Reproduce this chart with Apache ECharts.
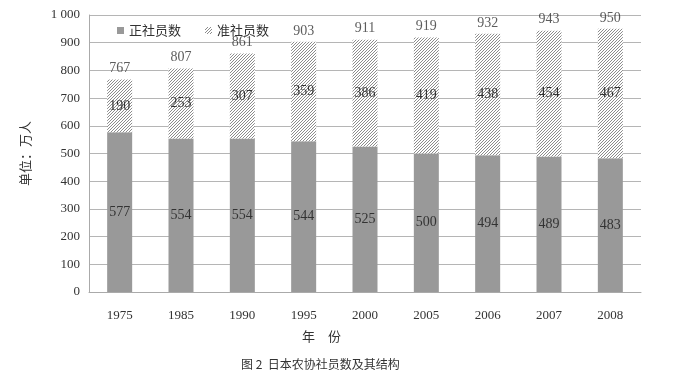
<!DOCTYPE html>
<html><head><meta charset="utf-8">
<script src="https://cdn.jsdelivr.net/npm/echarts@6/dist/echarts.min.js"></script>
<style>html,body{margin:0;padding:0;background:#fff}#c{width:676px;height:379px}</style>
</head><body><div id="c"></div>
<script>
const categories = ['1975','1985','1990','1995','2000','2005','2006','2007','2008'];
const regular = [577,554,554,544,525,500,494,489,483];
const associate = [190,253,307,359,386,419,438,454,467];
const totals = [767,807,861,903,911,919,932,943,950];
const seriesNames = ['正社员数','准社员数'];

function hatch(){
  const s = 3, c = document.createElement('canvas');
  c.width = s; c.height = s;
  const g = c.getContext('2d');
  g.fillStyle = '#ffffff'; g.fillRect(0,0,s,s);
  g.strokeStyle = '#8c8c8c'; g.lineWidth = 1;
  g.beginPath();
  g.moveTo(0,s); g.lineTo(s,0);
  g.moveTo(-1,1); g.lineTo(1,-1);
  g.moveTo(s-1,s+1); g.lineTo(s+1,s-1);
  g.stroke();
  return c;
}
const serif = '"Liberation Serif","DejaVu Serif",serif';
const cjk = '"Noto Sans CJK SC",sans-serif';
const chart = echarts.init(document.getElementById('c'));
chart.setOption({
  animation:false,
  backgroundColor:'#fff',
  title:{text:'图 2  日本农协社员数及其结构', left:236, top:353,
    textStyle:{fontFamily:cjk, fontSize:12, fontWeight:'normal', color:'#333'}},
  graphic:[{type:'text', left:302, top:330,
    style:{text:'年　份', font:'13px "Noto Sans CJK SC", sans-serif', fill:'#333'}}],
  legend:{top:19, left:112, itemGap:24, itemWidth:7, itemHeight:7, icon:'rect',
    data:seriesNames,
    textStyle:{fontFamily:cjk, fontSize:13, color:'#333'}},
  grid:{left:89, right:35, top:15, bottom:87},
  xAxis:{type:'category', data:categories,
    axisLine:{lineStyle:{color:'#aaa'}},
    axisTick:{inside:true, length:3, lineStyle:{color:'#aaa'}},
    axisLabel:{fontFamily:serif, fontSize:13, color:'#333', margin:17}},
  yAxis:{type:'value', min:0, max:1000, interval:100,
    name:'单位：万人', nameLocation:'middle', nameGap:57,
    nameTextStyle:{fontFamily:cjk, fontSize:13, color:'#333'},
    axisLine:{show:true, lineStyle:{color:'#aaa'}},
    axisTick:{show:false},
    splitLine:{lineStyle:{color:'#b5b5b5'}},
    axisLabel:{fontFamily:serif, fontSize:13, color:'#333', margin:9,
      formatter:v=> v>=1000 ? String(v).replace(/(\d)(\d{3})$/,'$1 $2') : String(v)}},
  series:[
    {name:seriesNames[0], type:'bar', stack:'a', barWidth:25, data:regular,
      itemStyle:{color:'#999999'},
      label:{show:true, position:'inside', fontFamily:serif, fontSize:14, color:'#333'}},
    {name:seriesNames[1], type:'bar', stack:'a', barWidth:25, data:associate,
      itemStyle:{color:{image:hatch(), repeat:'repeat'}},
      label:{show:true, position:'inside', fontFamily:serif, fontSize:14, color:'#333'}},
    {name:'total', type:'scatter', data:totals, symbolSize:0, z:5,
      label:{show:true, position:'top', distance:4, fontFamily:serif, fontSize:14, color:'#333'}}
  ]
});
</script></body></html>
